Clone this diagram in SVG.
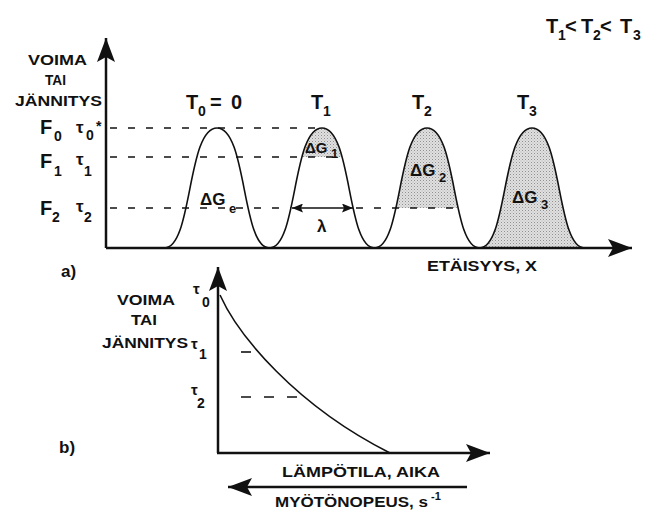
<svg xmlns="http://www.w3.org/2000/svg" width="660" height="511" viewBox="0 0 660 511">
<style>
text{font-family:"Liberation Sans",Arial,sans-serif;font-weight:bold;fill:#111}
.ax{stroke:#111;stroke-width:2.5;fill:none}
.dash{stroke:#111;stroke-width:1.6;stroke-dasharray:7 11;fill:none}
.curve{stroke:#111;stroke-width:1.6;fill:none}
.lbl{font-size:14px}
.big{font-size:20px}
.sub{font-size:14px}
.dg{font-size:17px}
.dsub{font-size:13px}
</style>
<defs>
<marker id="ah" viewBox="0 0 24 18" refX="24" refY="9" markerWidth="24" markerHeight="18" markerUnits="userSpaceOnUse" orient="auto">
<path d="M0,0 L24,9 L0,18 L5,9 Z" fill="#111"/>
</marker>
<marker id="sah" viewBox="0 0 11 9" refX="11" refY="4.5" markerWidth="11" markerHeight="9" markerUnits="userSpaceOnUse" orient="auto-start-reverse">
<path d="M0,0 L11,4.5 L0,9 L2,4.5 Z" fill="#111"/>
</marker>
<pattern id="hatch" width="3" height="3" patternUnits="userSpaceOnUse">
<rect width="3" height="3" fill="#e0e0e0"/>
<rect width="1" height="1" fill="#909090"/>
<rect x="1.5" y="1.5" width="1" height="1" fill="#b0b0b0"/>
</pattern>
<clipPath id="c1"><rect x="280" y="100" width="90" height="57"/></clipPath>
<clipPath id="c2"><rect x="370" y="100" width="120" height="108"/></clipPath>
<clipPath id="h1"><path d="M269.5,248 C297.5,248 292,128 322,128 C352,128 346.5,248 374.5,248 Z"/></clipPath>
</defs>

<g id="shading">
<path clip-path="url(#c1)" fill="url(#hatch)" d="M269.5,248 C297.5,248 292,128 322,128 C352,128 346.5,248 374.5,248 Z"/>
<path clip-path="url(#c2)" fill="url(#hatch)" d="M374.5,248 C402.5,248 397,128 427,128 C457,128 451.5,248 479.5,248 Z"/>
<path fill="url(#hatch)" d="M479.5,248 C507.5,248 502,128 532,128 C562,128 556.5,248 584.5,248 Z"/>
</g>

<g id="connectors">
<line class="ax" x1="106" y1="248" x2="106" y2="38" marker-end="url(#ah)"/>
<line class="ax" x1="106" y1="248" x2="632" y2="248" marker-end="url(#ah)"/>
<line class="dash" x1="110" y1="128" x2="322" y2="128"/>
<line class="dash" x1="110" y1="157" x2="342" y2="157"/>
<line class="dash" x1="110" y1="208" x2="291" y2="208"/>
<line class="dash" x1="356" y1="208" x2="458" y2="208"/>
<line stroke="#111" stroke-width="1.6" x1="292" y1="208" x2="353" y2="208" marker-start="url(#sah)" marker-end="url(#sah)"/>
<path class="curve" d="M158,248 L164.5,248 C192.5,248 187,128 217,128 C247,128 241.5,248 269.5,248 C297.5,248 292,128 322,128 C352,128 346.5,248 374.5,248 C402.5,248 397,128 427,128 C457,128 451.5,248 479.5,248 C507.5,248 502,128 532,128 C562,128 556.5,248 584.5,248"/>

<line class="ax" x1="218" y1="453" x2="218" y2="267" marker-end="url(#ah)"/>
<line class="ax" x1="217" y1="453" x2="490" y2="453" marker-end="url(#ah)"/>
<line class="ax" x1="467" y1="487" x2="228" y2="487" marker-end="url(#ah)"/>
<line class="dash" x1="241" y1="352" x2="251" y2="352" style="stroke-dasharray:none"/>
<line class="dash" x1="241" y1="397" x2="301" y2="397" style="stroke-dasharray:10 13"/>
<path class="curve" d="M220,295 C238,335 295,405 390,453"/>
</g>

<g id="yaxis-a-label">
<text class="lbl" x="28" y="65" textLength="59" lengthAdjust="spacingAndGlyphs">VOIMA</text>
<text class="lbl" x="45" y="85" textLength="21" lengthAdjust="spacingAndGlyphs">TAI</text>
<text class="lbl" x="15" y="106" textLength="87" lengthAdjust="spacingAndGlyphs">JÄNNITYS</text>
</g>

<g id="levels-a">
<text class="big" x="40" y="134">F</text><text class="sub" x="54" y="141">0</text>
<text font-size="17" x="76" y="133">τ</text><text class="sub" x="86" y="140">0</text><text class="sub" x="96" y="131">*</text>
<text class="big" x="40" y="168">F</text><text class="sub" x="54" y="176">1</text>
<text font-size="17" x="76" y="165">τ</text><text class="sub" x="84" y="176">1</text>
<text class="big" x="40" y="215">F</text><text class="sub" x="52" y="222">2</text>
<text font-size="17" x="76" y="212">τ</text><text class="sub" x="84" y="222">2</text>
</g>

<g id="peak-T0">
<text class="big" x="186" y="109">T</text><text class="sub" x="198" y="116">0</text>
<text class="big" x="210" y="109">=</text><text class="big" x="231" y="109">0</text>
<text class="dg" x="200" y="205">ΔG</text><text class="dsub" x="229" y="213">e</text>
</g>
<g id="peak-T1">
<text class="big" x="311" y="109">T</text><text class="sub" x="323" y="116">1</text>
<text font-size="15" x="305" y="153" clip-path="url(#h1)">ΔG</text><text class="dsub" x="331" y="158" clip-path="url(#h1)">1</text>
<text font-size="17" font-weight="normal" x="317" y="232">λ</text>
</g>
<g id="peak-T2">
<text class="big" x="412" y="109">T</text><text class="sub" x="424" y="116">2</text>
<text class="dg" x="410" y="176">ΔG</text><text class="dsub" x="439" y="182">2</text>
</g>
<g id="peak-T3">
<text class="big" x="517" y="109">T</text><text class="sub" x="529" y="116">3</text>
<text class="dg" x="512" y="203">ΔG</text><text class="dsub" x="541" y="209">3</text>
</g>

<g id="order-label">
<text class="big" x="546" y="33">T</text><text class="sub" x="558" y="40">1</text><text class="big" x="565" y="33">&lt;</text>
<text class="big" x="581" y="33">T</text><text class="sub" x="593" y="40">2</text><text class="big" x="600" y="33">&lt;</text>
<text class="big" x="620" y="33">T</text><text class="sub" x="633" y="40">3</text>
</g>

<g id="xaxis-a-label">
<text class="lbl" x="427" y="271" textLength="110" lengthAdjust="spacingAndGlyphs">ETÄISYYS, X</text>
<text font-size="17" x="61" y="277">a)</text>
</g>

<g id="yaxis-b-label">
<text class="lbl" x="117" y="305" textLength="58" lengthAdjust="spacingAndGlyphs">VOIMA</text>
<text class="lbl" x="131" y="325" textLength="26" lengthAdjust="spacingAndGlyphs">TAI</text>
<text class="lbl" x="102" y="348" textLength="86" lengthAdjust="spacingAndGlyphs">JÄNNITYS</text>
<text font-size="15" x="193" y="294">τ</text><text class="sub" x="202" y="307">0</text>
<text font-size="15" x="191" y="349">τ</text><text class="sub" x="199" y="359">1</text>
<text font-size="15" x="191" y="395">τ</text><text class="sub" x="197" y="408">2</text>
<text font-size="17" x="59" y="453">b)</text>
</g>

<g id="xaxis-b-label">
<text class="lbl" x="282" y="477" textLength="158" lengthAdjust="spacingAndGlyphs">LÄMPÖTILA, AIKA</text>
<text class="lbl" x="275" y="507" textLength="153" lengthAdjust="spacingAndGlyphs">MYÖTÖNOPEUS, s</text>
<text font-size="11" x="431" y="500">-1</text>
</g>
</svg>
